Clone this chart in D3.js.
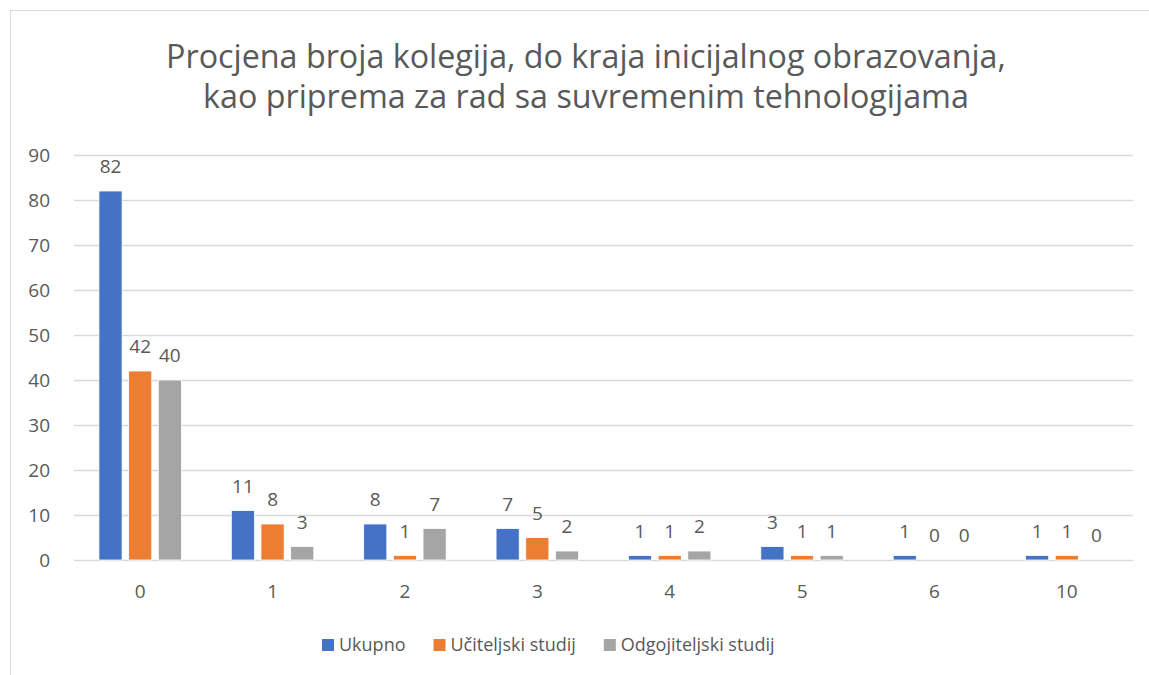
<!DOCTYPE html>
<html>
<head>
<meta charset="utf-8">
<script src="https://cdn.jsdelivr.net/npm/d3@7"></script>
<style>
  html, body { margin: 0; padding: 0; background: #fff; }
  svg { display: block; }
  text { font-family: "Open Sans", "Noto Sans", sans-serif; fill: #595959; }
</style>
</head>
<body>
<svg id="chart" width="1149" height="675"></svg>
<script>
const categories = ["0", "1", "2", "3", "4", "5", "6", "10"];
const seriesNames = ["Ukupno", "Učiteljski studij", "Odgojiteljski studij"];
const ukupno = [82, 11, 8, 7, 1, 3, 1, 1];
const uciteljski = [42, 8, 1, 5, 1, 1, 0, 1];
const odgojiteljski = [40, 3, 7, 2, 2, 1, 0, 0];
const yTicks = [0, 10, 20, 30, 40, 50, 60, 70, 80, 90];
const titleLines = ["Procjena broja kolegija, do kraja inicijalnog obrazovanja,", "kao priprema za rad sa suvremenim tehnologijama"];
const colors = ["#4472C4", "#ED7D31", "#A5A5A5"];

const seriesValues = [ukupno, uciteljski, odgojiteljski];
const data = categories.map((c, i) => ({
  cat: c,
  vals: seriesNames.map((s, j) => ({ series: s, value: seriesValues[j][i], idx: j }))
}));

const svg = d3.select("#chart");

// chart border
svg.append("rect").attr("x", 10.5).attr("y", 10.5).attr("width", 1152).attr("height", 700)
  .attr("fill", "#fff").attr("stroke", "#D9D9D9").attr("stroke-width", 1);

const plot = { left: 74, right: 1133, top: 155, bottom: 560 };

const x0 = d3.scaleBand().domain(categories).range([plot.left, plot.right]).paddingInner(0).paddingOuter(0);
const groupW = 82.5;
const x1 = d3.scaleBand().domain(seriesNames).range([0, groupW]).paddingInner(0.22).paddingOuter(0);
const y = d3.scaleLinear().domain([0, 90]).range([plot.bottom, plot.top]);

// gridlines
svg.append("g").selectAll("line").data(yTicks).join("line")
  .attr("x1", plot.left).attr("x2", plot.right)
  .attr("y1", d => Math.round(y(d)) + 0.5).attr("y2", d => Math.round(y(d)) + 0.5)
  .attr("stroke", "#D9D9D9").attr("stroke-width", 1.3);

// y axis labels
const yAxis = d3.axisLeft(y).tickValues(yTicks).tickSize(0).tickPadding(0);
const yg = svg.append("g").attr("transform", `translate(${plot.left - 24},0)`).call(yAxis);
yg.select(".domain").remove();
yg.selectAll("text").style("font-size", "19px").attr("fill", "#595959").attr("dy", "0.35em");

// x axis labels
const xAxis = d3.axisBottom(x0).tickSize(0).tickPadding(0);
const xg = svg.append("g").attr("transform", `translate(0,${plot.bottom + 38})`).call(xAxis);
xg.select(".domain").remove();
xg.selectAll("text").style("font-size", "19px").attr("fill", "#595959").attr("dy", "0");

// bars
const groups = svg.append("g").selectAll("g").data(data).join("g")
  .attr("transform", d => `translate(${x0(d.cat) + (x0.bandwidth() - groupW) / 2},0)`);

groups.selectAll("rect").data(d => d.vals).join("rect")
  .attr("x", d => x1(d.series))
  .attr("width", x1.bandwidth())
  .attr("y", d => y(d.value))
  .attr("height", d => y(0) - y(d.value))
  .attr("fill", d => colors[d.idx])
  .attr("stroke", "#fff").attr("stroke-width", 0.8);

groups.selectAll("text").data(d => d.vals).join("text")
  .attr("x", d => x1(d.series) + x1.bandwidth() / 2)
  .attr("y", d => y(d.value) - 18)
  .attr("text-anchor", "middle")
  .style("font-size", "19px")
  .text(d => d.value);

// title
const targetW = 840;
const t1 = svg.append("text").attr("x", 586).attr("y", 68).attr("text-anchor", "middle")
  .style("font-size", "31px").text(titleLines[0]);
const w = t1.node().getComputedTextLength();
const fs = 31 * targetW / w;
t1.style("font-size", fs + "px");
svg.append("text").attr("x", 586).attr("y", 108).attr("text-anchor", "middle")
  .style("font-size", fs + "px").text(titleLines[1]);

// legend
const legend = svg.append("g").attr("transform", "translate(322,645)");
let lx = 0;
seriesNames.forEach((s, i) => {
  const g = legend.append("g").attr("transform", `translate(${lx},0)`);
  g.append("rect").attr("x", 0).attr("y", -6).attr("width", 12).attr("height", 12).attr("fill", colors[i]);
  const t = g.append("text").attr("x", 17).attr("y", 0).attr("dy", "0.35em")
    .style("font-size", "18px").text(s);
  lx += 17 + t.node().getComputedTextLength() + 28;
});
</script>
</body>
</html>
